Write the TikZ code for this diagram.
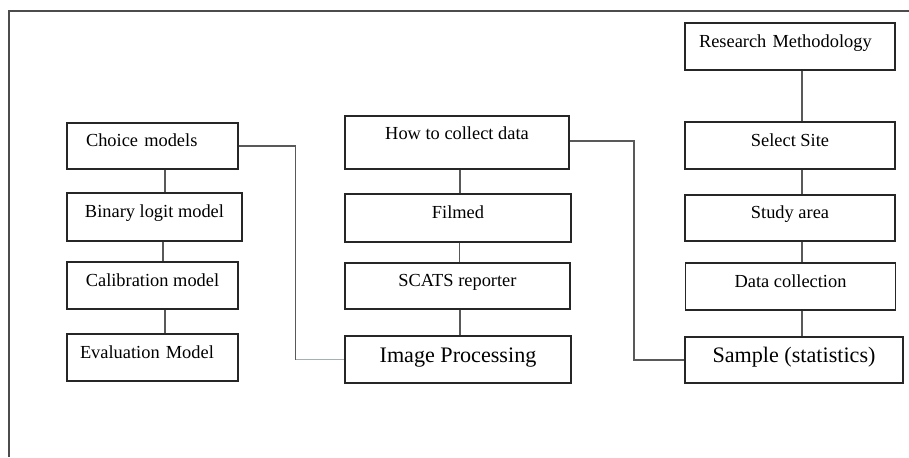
\documentclass[tikz,border=0pt]{standalone}
\usepackage{fontspec}
\setmainfont{Liberation Serif}
\usetikzlibrary{calc}
\definecolor{bluegrey}{HTML}{A3B0B4}

\begin{document}
\begin{tikzpicture}[
  x=0.75pt, y=-0.75pt,
  box/.style = {draw=black!85, line width=0.9pt, inner sep=0pt, minimum width=#1, text height=9pt, text depth=8pt, font=\fontsize{13.8}{16}\selectfont},
  bigbox/.style = {box=#1, text height=11pt, text depth=7pt, font=\fontsize{16.6}{19}\selectfont},
  lefttext/.style = {align=left, text width=#1},
  link/.style = {draw=black!65, line width=0.95pt},
  frame/.style = {draw=black!70, line width=0.9pt}
  ]
	\useasboundingbox (0,0) rectangle (909,457);
	\draw[frame] (909,11) -| (9,457);

	\coordinate (@l) at (295.5,0);
	\coordinate (@r) at (634,0);

	\node[box=128.25pt, minimum height=34.5pt, lefttext=99.75pt] (choice) at (152.5,146) {Choice models};
	\node[box=131.25pt, minimum height=36pt] (binary) at (154.5,217) {Binary logit model};
	\node[box=128.25pt, minimum height=35.25pt] (calib) at (152.5,285.5) {Calibration model};
	\node[box=128.25pt, minimum height=35.25pt, lefttext=108.75pt] (eval) at (152.5,357.5) {Evaluation Model};

	\node[box=168pt, minimum height=39.75pt, text depth=14pt] (collect) at (457,142.5) {How to collect data};
	\node[box=169.5pt, minimum height=36pt] (filmed) at (458,218) {Filmed};
	\node[box=168.75pt, minimum height=34.5pt] (scats) at (457.5,286) {SCATS reporter};
	\node[bigbox=169.5pt, minimum height=35.25pt] (image) at (458,359.5) {Image Processing};

	\node[box=157.5pt, minimum height=35.25pt, lefttext=136.5pt] (research) at (790,46.5) {Research Methodology};
	\node[box=157.5pt, minimum height=35.25pt] (site) at (790,145.5) {Select Site};
	\node[box=157.5pt, minimum height=34.5pt] (study) at (790,218) {Study area};
	\node[box=157.5pt, minimum height=35.25pt] (datacoll) at (790.5,286.5) {Data collection};
	\node[bigbox=163.5pt, minimum height=34.5pt] (sample) at (794,360) {Sample (statistics)};

	\draw[link] ([xshift=9.4pt]choice.south) -- ([xshift=9.4pt]choice.south |- binary.north);
	\draw[link] ([xshift=6.4pt]binary.south) -- ([xshift=6.4pt]binary.south |- calib.north);
	\draw[link] ([xshift=9.4pt]calib.south) -- ([xshift=9.4pt]calib.south |- eval.north);

	\draw[link] ([xshift=2.25pt]collect.south) -- ([xshift=2.25pt]collect.south |- filmed.north);
	\draw[link] ([xshift=1.1pt]filmed.south) -- ([xshift=1.1pt]filmed.south |- scats.north);
	\draw[link] ([xshift=1.9pt]scats.south) -- ([xshift=1.9pt]scats.south |- image.north);

	\draw[link] ([xshift=9pt]research.south) -- ([xshift=9pt]research.south |- site.north);
	\draw[link] ([xshift=9pt]site.south) -- ([xshift=9pt]site.south |- study.north);
	\draw[link] ([xshift=9pt]study.south) -- ([xshift=9pt]study.south |- datacoll.north);
	\draw[link] ([xshift=8.6pt]datacoll.south) -- ([xshift=8.6pt]datacoll.south |- sample.north);

	\draw[link] (choice.east) -| (@l |- image.west);
	\draw[link, draw=bluegrey] (@l |- image.west) -- (image.west);
	\draw[link] ([yshift=1.1pt]collect.east) -| (@r |- sample.west) -- (sample.west);

\end{tikzpicture}
\end{document}
